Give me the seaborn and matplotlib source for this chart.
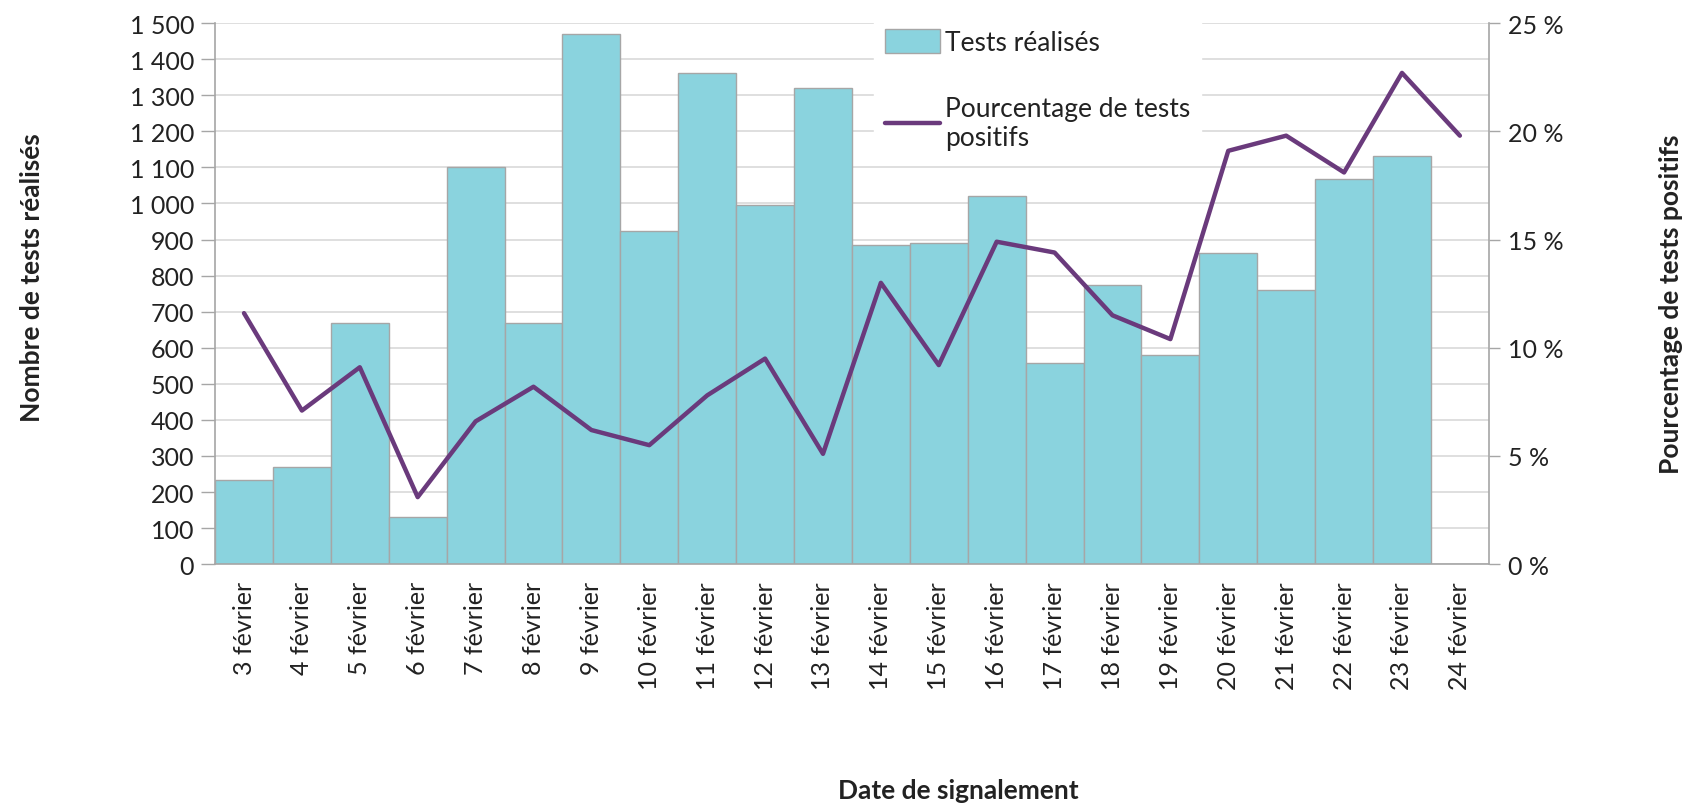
import matplotlib
matplotlib.use("Agg")
import matplotlib.pyplot as plt
import matplotlib.ticker as mticker
from matplotlib.patches import Patch
from matplotlib.lines import Line2D
import numpy as np
import pandas as pd
import seaborn as sns

# data
dates = [f"{d} février" for d in range(3, 25)]
tests = [234, 270, 670, 131, 1102, 669, 1470, 925, 1362, 997, 1319,
         886, 890, 1020, 557, 774, 579, 863, 759, 1067, 1133, np.nan]
pct_positive = [11.6, 7.1, 9.1, 3.1, 6.6, 8.2, 6.2, 5.5, 7.8, 9.5, 5.1,
                13.0, 9.2, 14.9, 14.4, 11.5, 10.4, 19.1, 19.8, 18.1, 22.7, 19.8]

BAR_COLOR = "#8AD3DE"
EDGE_COLOR = "#A6A6A6"
LINE_COLOR = "#6A3A7C"
GRID_COLOR = "#D9D9D9"
TEXT_COLOR = "#222222"

sns.set_style("white")
plt.rcParams["font.family"] = ["Lato", "DejaVu Sans"]

df = pd.DataFrame({"date": dates, "tests": tests, "pct": pct_positive})

fig, ax = plt.subplots(figsize=(16.88, 8.04), dpi=100)
fig.subplots_adjust(left=0.1274, right=0.882, top=0.970, bottom=0.297)

sns.barplot(data=df, x="date", y="tests", order=dates, color=BAR_COLOR,
            edgecolor=EDGE_COLOR, linewidth=1.0, width=1.0, saturation=1,
            ax=ax, zorder=2)

ax.set_ylim(0, 1500)
ax.set_xlim(-0.5, len(dates) - 0.5)
ax.yaxis.set_major_locator(mticker.MultipleLocator(100))
ax.yaxis.set_major_formatter(mticker.FuncFormatter(
    lambda v, p: f"{int(v):,}".replace(",", " ")))
ax.grid(axis="y", color=GRID_COLOR, linewidth=1.2)
ax.set_axisbelow(True)

# category ticks: labels at centres, marks at boundaries
ax.set_xticks(range(len(dates)))
ax.set_xticklabels(dates, rotation=90, fontsize=18)
ax.set_xticks(np.arange(-0.5, len(dates)), minor=True)
ax.tick_params(axis="x", which="major", length=0, pad=12, labelcolor=TEXT_COLOR)
ax.tick_params(axis="x", which="minor", length=9, color=EDGE_COLOR, width=1)
ax.tick_params(axis="y", labelsize=18, length=10, color=EDGE_COLOR, width=1,
               left=True, labelcolor=TEXT_COLOR, pad=5)

for side in ["top", "right"]:
    ax.spines[side].set_visible(False)
for side in ["left", "bottom"]:
    ax.spines[side].set_color(EDGE_COLOR)
    ax.spines[side].set_linewidth(1.2)

ax.set_xlabel("")
ax.set_ylabel("")

ax2 = ax.twinx()
sns.lineplot(x=np.arange(len(dates)), y=df["pct"], color=LINE_COLOR,
             linewidth=3.2, ax=ax2)
ax2.set_ylim(0, 25)
ax2.set_ylabel("")
ax2.yaxis.set_major_locator(mticker.MultipleLocator(5))
ax2.yaxis.set_major_formatter(mticker.FuncFormatter(lambda v, p: f"{int(v)} %"))
ax2.tick_params(axis="y", labelsize=18, length=8, color=EDGE_COLOR, width=1,
                right=True, labelcolor=TEXT_COLOR, pad=6)
for side in ["top", "left", "bottom"]:
    ax2.spines[side].set_visible(False)
ax2.spines["right"].set_color(EDGE_COLOR)
ax2.spines["right"].set_linewidth(1.2)

# axis titles placed in figure coordinates
fig.text(0.019, 0.655, "Nombre de tests réalisés", rotation=90, ha="center",
         va="center", fontsize=19, fontweight="bold", color=TEXT_COLOR)
fig.text(0.990, 0.622, "Pourcentage de tests positifs", rotation=90,
         ha="center", va="center", fontsize=19, fontweight="bold",
         color=TEXT_COLOR)
fig.text(0.5675, 0.016, "Date de signalement", ha="center", va="center",
         fontsize=19, fontweight="bold", color=TEXT_COLOR)

handles = [
    Patch(facecolor=BAR_COLOR, edgecolor=EDGE_COLOR, linewidth=1),
    Line2D([0], [0], color=LINE_COLOR, linewidth=3.2),
]
labels = ["Tests réalisés", "Pourcentage de tests\npositifs"]
leg = ax2.legend(handles, labels, loc="upper left",
                 bbox_to_anchor=(0.510, 0.992), bbox_transform=fig.transFigure,
                 frameon=True, facecolor="white", edgecolor="white",
                 fancybox=False, framealpha=1, fontsize=19,
                 handlelength=2.1, handleheight=1.0, handletextpad=0.2,
                 labelspacing=1.55, borderpad=0.4)
for t in leg.get_texts():
    t.set_color(TEXT_COLOR)

fig.savefig("out.png", dpi=100)
